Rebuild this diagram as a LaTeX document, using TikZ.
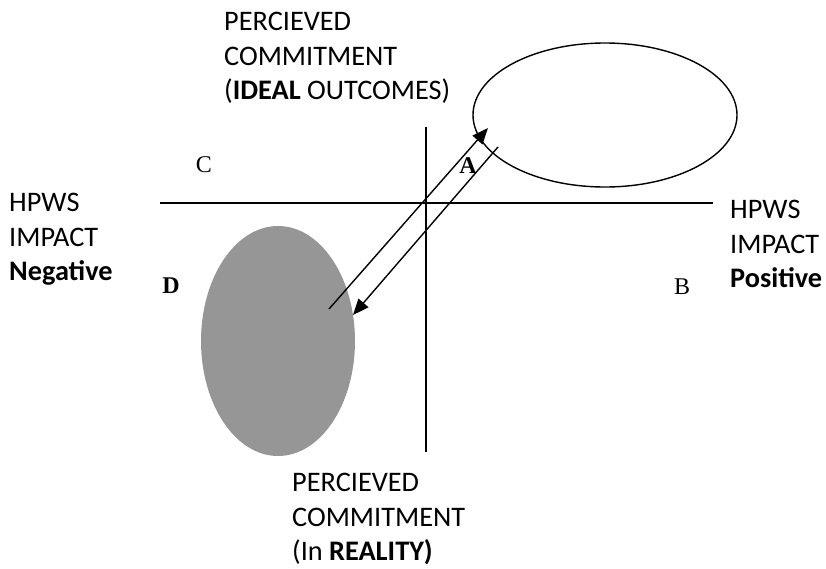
\documentclass[tikz,border=0pt]{standalone}
\usepackage{fontspec}
\setmainfont{Carlito}
\newfontfamily\quadfont{Liberation Serif}
\usetikzlibrary{arrows.meta,shapes.geometric}
\definecolor{reality}{RGB}{150,150,150}

\begin{document}
\begin{tikzpicture}[x=1pt,y=-1pt,
  >={Triangle[length=16pt,width=13pt]},
  axis/.style={line width=1.4pt},
  link/.style={line width=1.4pt,->},
  blob/.style={ellipse,inner sep=0pt},
  caption/.style={font=\fontsize{28.3}{34.5}\selectfont,align=left,anchor=north west,inner sep=0pt},
  quad/.style={font=\quadfont\fontsize{24}{28}\selectfont,inner sep=0pt}
]
\useasboundingbox (0,0) rectangle (826,568);
% axes
\coordinate (xl) at (160,203);
\coordinate (xr) at (713,203);
\coordinate (yt) at (426,127);
\coordinate (yb) at (426,452);
\draw[axis] (xl)--(xr);
\draw[axis] (yt)--(yb);

% outcomes
\node[blob,draw,line width=1.4pt,minimum width=264pt,minimum height=144pt] (ideal) at (605,115) {};
\node[blob,fill=reality,minimum width=154pt,minimum height=230pt] (real) at (278,341) {};

% arrows between them
\coordinate (up0) at (329,309);
\coordinate (up1) at (488,128);
\coordinate (dn0) at (498,147);
\coordinate (dn1) at (353,315);
\draw[link] (up0)--(up1);
\draw[link] (dn0)--(dn1);

% quadrants
\node[quad] (qc) at (204,165) {C};
\node[quad] (qa) at (468,166) {\bfseries A};
\node[quad] (qd) at (171,286) {\bfseries D};
\node[quad] (qb) at (682,287) {B};

% captions
\node[caption] (top)   at (224,12)  {PERCIEVED\\COMMITMENT\\(\textbf{IDEAL} OUTCOMES)};
\node[caption] (left)  at (9,193)   {HPWS\\IMPACT\\\textbf{Negative}};
\node[caption] (right) at (730,200) {HPWS\\IMPACT\\\textbf{Positive}};
\node[caption] (bot)   at (292,473) {PERCIEVED\\COMMITMENT\\(In \textbf{REALITY)}};
\end{tikzpicture}
\end{document}
